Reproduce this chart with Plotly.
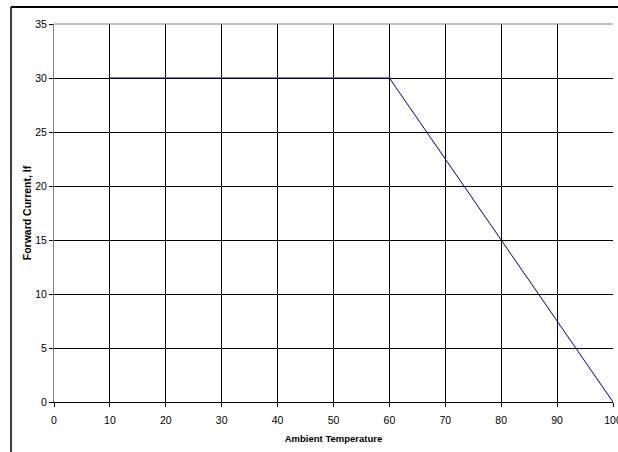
import plotly.graph_objects as go

temperature = [10, 60, 100]
forward_current = [30, 30, 0]
x_ticks = [0, 10, 20, 30, 40, 50, 60, 70, 80, 90, 100]
y_ticks = [0, 5, 10, 15, 20, 25, 30, 35]

fig = go.Figure()
fig.add_trace(go.Scatter(x=temperature, y=forward_current, mode="lines",
                         line=dict(color="#000080", width=1), showlegend=False,
                         cliponaxis=False, hoverinfo="skip"))

L, R, T, B = 54, 5, 24, 50
W, H = 618, 452
pw, ph = W - L - R, H - T - B
top_px = 7
left_px = 11

fig.update_layout(
    width=W, height=H,
    margin=dict(l=L, r=R, t=T, b=B, autoexpand=False),
    paper_bgcolor="white", plot_bgcolor="white",
    font=dict(family="Liberation Sans, Arial, sans-serif", size=10.5, color="black"),
    xaxis=dict(range=[0, 100], tickvals=x_ticks, ticktext=[str(v) for v in x_ticks],
               showgrid=True, gridcolor="#000000", gridwidth=1,
               showline=True, linecolor="#000000", linewidth=1,
               ticks="outside", ticklen=4, tickcolor="#000000",
               ticklabelstandoff=4, ticklabeloverflow="allow", automargin=False,
               zeroline=False,
               title=dict(text="<b>Ambient Temperature</b>", font=dict(size=9.5), standoff=10)),
    yaxis=dict(range=[0, 35], tickvals=y_ticks, ticktext=[str(v) for v in y_ticks],
               showgrid=True, gridcolor="#000000", gridwidth=1,
               showline=True, linecolor="#808080", linewidth=1,
               ticks="outside", ticklen=4, tickcolor="#000000",
               zeroline=False, automargin=False,
               title=dict(text="<b>Forward Current, If</b>", font=dict(size=10.5), standoff=1)),
    shapes=[
        dict(type="line", xref="paper", yref="paper", x0=0, x1=1, y0=1, y1=1,
             line=dict(color="#808080", width=1), layer="below"),
        dict(type="line", xref="paper", yref="paper",
             x0=(left_px - L) / pw, x1=1.1,
             y0=(H - B - top_px) / ph, y1=(H - B - top_px) / ph,
             line=dict(color="#000000", width=2), layer="above"),
        dict(type="line", xref="paper", yref="paper",
             x0=(left_px - L) / pw, x1=(left_px - L) / pw,
             y0=-0.3, y1=(H - B - top_px) / ph,
             line=dict(color="#000000", width=1.5), layer="above"),
    ],
)

fig.write_html("out.html", config={"displayModeBar": False},
               post_script="document.body.style.margin='0';")
